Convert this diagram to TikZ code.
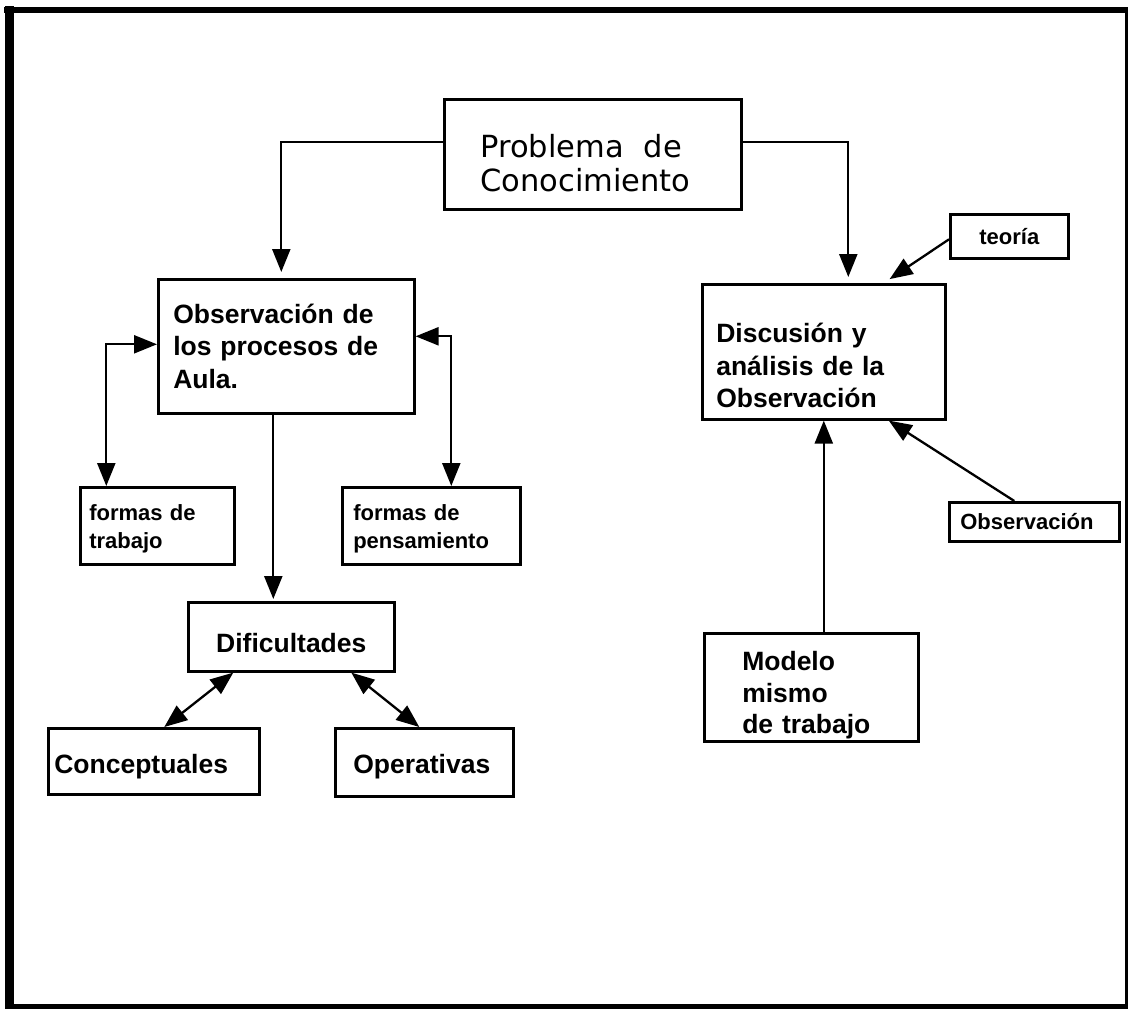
\documentclass[tikz,border=0pt]{standalone}
\usepackage{fontspec}
\setmainfont{Liberation Sans}
\newfontfamily\probfont{DejaVu Sans}
\usetikzlibrary{arrows.meta}
\newcommand\myup[1]{\rule{0pt}{#1pt}}
\begin{document}
\begin{tikzpicture}[x=1pt,y=-1pt,
  box/.style={draw, line width=2.6pt, rectangle, inner ysep=0pt, anchor=north west, align=left},
  bigfont/.style={font=\bfseries\fontsize{26.5}{32.5}\selectfont},
  smallfont/.style={font=\bfseries\fontsize{22}{28}\selectfont},
  arr/.style={line width=2.3pt, -{Triangle[length=23pt,width=18pt]}},
  darr/.style={line width=2.3pt, {Triangle[length=23pt,width=18pt]}-{Triangle[length=23pt,width=18pt]}}
]
\useasboundingbox (0,0) rectangle (1128,1009);
% frame
\draw[line width=6pt] (4,10) -- (1128,10);
\draw[line width=9pt] (9.5,6) -- (9.5,1009);
\draw[line width=3pt] (1126.5,7) -- (1126.5,1009);
\draw[line width=5pt] (5,1006.5) -- (1128,1006.5);

% boxes
\node[box, font=\probfont\fontsize{30.5}{34}\selectfont, text width=225pt, inner xsep=36pt,
  minimum width=297pt, minimum height=110pt] (prob) at (443,98)
  {\myup{40}Problema\hspace{20pt}de\\Conocimiento};
\node[box, bigfont, text width=226pt, inner xsep=15pt, minimum width=256pt, minimum height=134pt]
  (obs) at (157,278) {Observación de\\los procesos de\\Aula.};
\node[box, bigfont, text width=215pt, inner xsep=14pt, minimum width=243pt, minimum height=135pt]
  (disc) at (701,283) {\myup{47}Discusión y\\análisis de la\\Observación};
\node[box, smallfont, align=center, inner xsep=0pt, minimum width=118pt, minimum height=44pt]
  (teoria) at (949,213) {teoría};
\node[box, smallfont, text width=148pt, inner xsep=11pt, minimum width=170pt, minimum height=39pt]
  (obs2) at (948,501) {Observación};
\node[box, font=\bfseries\fontsize{26.5}{31.5}\selectfont, text width=138pt, inner xsep=38pt, minimum width=214pt, minimum height=108pt]
  (modelo) at (703,632) {\myup{35.7}Modelo\\mismo\\de trabajo};
\node[box, smallfont, text width=136pt, inner xsep=9pt, minimum width=154pt, minimum height=77pt]
  (ftrab) at (79,486) {\myup{21.6}formas de\\trabajo};
\node[box, smallfont, text width=156pt, inner xsep=11pt, minimum width=178pt, minimum height=77pt]
  (fpens) at (341,486) {\myup{21.6}formas de\\pensamiento};
\node[box, bigfont, align=center, inner xsep=0pt, minimum width=206pt, minimum height=69pt]
  (dif) at (187,601) {\myup{32}Dificultades};
\node[box, bigfont, text width=199pt, inner xsep=6pt, minimum width=211pt, minimum height=66pt]
  (conc) at (47,727) {\myup{30.5}Conceptuales};
\node[box, bigfont, text width=142pt, inner xsep=18pt, minimum width=178pt, minimum height=68pt]
  (oper) at (334,727) {\myup{28.5}Operativas};

% connectors
\draw[arr, shorten >=6pt] (prob.west |- 0,142) -| ([xshift=-5pt]obs.north);
\draw[arr, shorten >=6pt] (prob.east |- 0,142) -| ([xshift=24.5pt]disc.north);
\draw[arr, shorten >=7pt] ([yshift=-3pt]teoria.west) -- ([xshift=60pt]disc.north);
\draw[arr] ([xshift=-20pt]obs2.north) -- ([xshift=65pt]disc.south);
\draw[arr] (disc.south |- modelo.north) -- (disc.south);
\draw[darr] ([yshift=2pt]obs.west) -| ([xshift=-51pt]ftrab.north);
\draw[darr] ([yshift=10pt]obs.east) -| ([xshift=20pt]fpens.north);
\draw[arr, shorten >=2pt] ([xshift=-13pt]obs.south) -- ([xshift=-18pt]dif.north);
\draw[darr] ([xshift=-58pt]dif.south) -- ([xshift=10.5pt]conc.north);
\draw[darr] ([xshift=60pt]dif.south) -- ([xshift=-5pt]oper.north);
\end{tikzpicture}
\end{document}
